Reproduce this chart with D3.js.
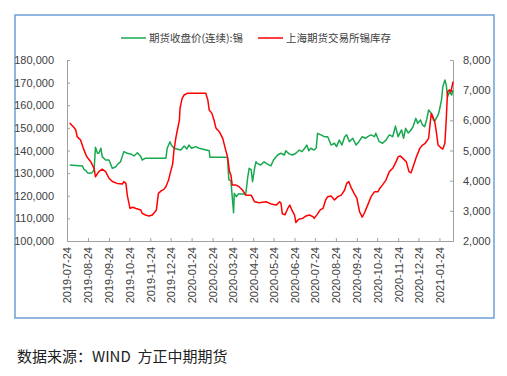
<!DOCTYPE html>
<html>
<head>
<meta charset="utf-8">
<script src="https://cdn.jsdelivr.net/npm/d3@7"></script>
<style>
  body { margin: 0; background: #fff; }
  svg { display: block; font-family: "Microsoft YaHei", "Noto Sans CJK SC", sans-serif; }
</style>
</head>
<body>
<svg id="chart"></svg>
<script>
const width = 507;
const height = 376;

// dates are stored as day offsets from the first tick (2019-07-24)
const startDate = new Date(2019, 6, 24);
const lastDay = 570;

const priceName = "期货收盘价(连续):锡";
const stockName = "上海期货交易所锡库存";
const sourceText = "数据来源：WIND  方正中期期货";

const priceDays = [4, 23, 25, 28, 30, 33, 37, 40, 42, 45, 47, 50, 52, 57, 62, 67, 72, 76, 79, 84, 89, 94, 99, 104, 109, 111, 116, 146, 148, 152, 154, 158, 168, 173, 177, 180, 184, 190, 195, 210, 211, 237, 239, 242, 244, 246, 247, 250, 253, 264, 267, 269, 272, 274, 277, 279, 281, 286, 291, 296, 301, 305, 311, 316, 321, 323, 328, 333, 338, 343, 347, 351, 354, 357, 360, 365, 368, 370, 375, 380, 385, 390, 395, 398, 402, 406, 410, 413, 417, 422, 427, 431, 436, 441, 444, 449, 454, 456, 461, 466, 471, 476, 481, 485, 489, 494, 497, 500, 504, 508, 511, 515, 518, 522, 525, 528, 531, 534, 538, 541, 543, 548, 550, 553, 555, 558, 560, 562, 565, 568, 570];
const priceValues = [133600, 133150, 131700, 131100, 130200, 129900, 130200, 131400, 141400, 138800, 138800, 141000, 137300, 135800, 135800, 132100, 132800, 134300, 135000, 139500, 138800, 138500, 137600, 139000, 137300, 135800, 136600, 136600, 141000, 143900, 142400, 141000, 140200, 142000, 140700, 142400, 141000, 141700, 141000, 139900, 137000, 137000, 127000, 126700, 119600, 112500, 121100, 119600, 120800, 120800, 128400, 132100, 131400, 126200, 132100, 135000, 134300, 133600, 135000, 134000, 133200, 135800, 138000, 138800, 138000, 139900, 138500, 138000, 138800, 140200, 139500, 141000, 142400, 139900, 141000, 140200, 141100, 147600, 146900, 146100, 146100, 142400, 143200, 141700, 144600, 142400, 146100, 146900, 143900, 145400, 142400, 143900, 146100, 145400, 146100, 146900, 146100, 147600, 143900, 143200, 144600, 146900, 146100, 150800, 146100, 149100, 145400, 149800, 147700, 149100, 150500, 154200, 152000, 153500, 151300, 150500, 153500, 157900, 156400, 153500, 153000, 155700, 157900, 162300, 168200, 171200, 169000, 163800, 166000, 164500, 166700];

const stockDays = [4, 10, 13, 15, 20, 25, 29, 35, 40, 42, 47, 52, 57, 62, 67, 74, 82, 84, 87, 89, 93, 97, 102, 109, 111, 116, 121, 126, 130, 132, 135, 139, 143, 146, 150, 153, 156, 158, 161, 163, 166, 167, 170, 173, 178, 205, 208, 210, 214, 217, 220, 225, 230, 233, 237, 240, 242, 244, 249, 254, 259, 264, 272, 274, 277, 284, 294, 301, 309, 314, 316, 318, 322, 326, 329, 332, 336, 338, 342, 348, 353, 358, 363, 365, 370, 374, 378, 382, 385, 390, 395, 400, 405, 410, 413, 416, 420, 424, 428, 432, 436, 439, 444, 449, 454, 459, 462, 466, 471, 476, 481, 486, 489, 492, 496, 501, 505, 508, 512, 516, 521, 525, 529, 534, 536, 538, 541, 543, 545, 548, 553, 555, 558, 560, 561, 562, 565, 567, 570];
const stockValues = [5910, 5770, 5680, 5460, 5350, 5020, 4800, 4630, 4410, 4130, 4300, 4380, 4300, 4080, 3970, 3910, 3890, 3970, 3910, 3520, 3080, 3120, 3080, 3030, 2920, 2860, 2830, 2860, 2970, 3030, 3580, 3660, 3710, 3800, 4020, 4300, 4550, 5020, 5450, 5680, 6010, 6410, 6730, 6840, 6900, 6900, 6670, 6340, 6230, 6010, 5740, 5620, 5400, 5130, 4790, 4300, 4190, 3860, 3860, 3800, 3690, 3520, 3520, 3430, 3300, 3270, 3300, 3230, 3190, 3300, 3250, 2900, 2870, 3080, 3190, 3030, 2860, 2610, 2720, 2750, 2830, 2860, 2810, 2750, 2900, 3030, 3080, 3360, 3470, 3490, 3360, 3470, 3520, 3690, 3910, 3970, 3750, 3580, 3420, 2970, 2790, 2920, 3190, 3470, 3630, 3630, 3750, 3860, 4020, 4300, 4410, 4630, 4790, 4820, 4740, 4630, 4300, 4260, 4520, 4790, 5070, 5180, 5240, 5400, 5850, 6230, 6080, 5950, 5680, 5180, 5070, 5050, 5240, 6010, 6510, 6950, 7010, 6940, 7280];

const priceTicks = [100000, 110000, 120000, 130000, 140000, 150000, 160000, 170000, 180000];
const stockTicks = [2000, 3000, 4000, 5000, 6000, 7000, 8000];
const monthTicks = d3.range(0, 19).map(i => d3.timeMonth.offset(startDate, i));

const margin = {left: 67, right: 453, top: 60, bottom: 241};
const green = "#18a84f";
const red = "#ff0000";
const axisColor = "#a0a0a0";
const textColor = "#404040";

const svg = d3.select('#chart')
    .attr('width', width).attr('height', height);

// outer frame
svg.append('rect')
    .attr('x', 15).attr('y', 15)
    .attr('width', 479).attr('height', 303)
    .attr('fill', 'none')
    .attr('stroke', '#6e9fd6')
    .attr('stroke-width', 1.5);

const x = d3.scaleTime()
    .domain([startDate, d3.timeDay.offset(startDate, lastDay)])
    .range([margin.left, margin.right]);
const yLeft = d3.scaleLinear().domain([100000, 180000]).range([margin.bottom, margin.top]);
const yRight = d3.scaleLinear().domain([2000, 8000]).range([margin.bottom, margin.top]);

const fmt = d3.format(',');

function styleAxis(g) {
    g.select('.domain').attr('stroke', axisColor);
    g.selectAll('.tick line').attr('stroke', axisColor);
    g.selectAll('.tick text').attr('fill', textColor).style('font-size', '11px');
}

svg.append('g')
    .attr('transform', `translate(${margin.left},0)`)
    .call(d3.axisLeft(yLeft).tickValues(priceTicks).tickFormat(fmt)
        .tickSizeInner(-3).tickSizeOuter(0).tickPadding(13))
    .call(styleAxis);

svg.append('g')
    .attr('transform', `translate(${margin.right},0)`)
    .call(d3.axisRight(yRight).tickValues(stockTicks).tickFormat(fmt)
        .tickSizeInner(-3).tickSizeOuter(0).tickPadding(10))
    .call(styleAxis);

const xAxis = svg.append('g')
    .attr('transform', `translate(0,${margin.bottom})`)
    .call(d3.axisBottom(x).tickValues(monthTicks).tickFormat(d3.timeFormat('%Y-%m-%d'))
        .tickSizeInner(-3).tickSizeOuter(0))
    .call(styleAxis);

xAxis.selectAll('.tick text')
    .attr('transform', 'rotate(-90)')
    .attr('text-anchor', 'end')
    .attr('x', -6)
    .attr('y', 0)
    .attr('dy', '0.35em');

const priceLine = d3.line()
    .x((d, i) => x(d3.timeDay.offset(startDate, priceDays[i])))
    .y(d => yLeft(d));
const stockLine = d3.line()
    .x((d, i) => x(d3.timeDay.offset(startDate, stockDays[i])))
    .y(d => yRight(d));

svg.append('path')
    .datum(priceValues)
    .attr('d', priceLine)
    .attr('fill', 'none')
    .attr('stroke', green)
    .attr('stroke-width', 1.5)
    .attr('stroke-linejoin', 'round');

svg.append('path')
    .datum(stockValues)
    .attr('d', stockLine)
    .attr('fill', 'none')
    .attr('stroke', red)
    .attr('stroke-width', 1.5)
    .attr('stroke-linejoin', 'round');

// legend
const legendItems = [
    {name: priceName, color: green, x: 121},
    {name: stockName, color: red, x: 258}
];
const legend = svg.append('g');
legendItems.forEach(item => {
    legend.append('line')
        .attr('x1', item.x).attr('x2', item.x + 25)
        .attr('y1', 38).attr('y2', 38)
        .attr('stroke', item.color).attr('stroke-width', 1.5);
    legend.append('text')
        .attr('x', item.x + 28).attr('y', 38)
        .attr('dy', '0.35em')
        .attr('fill', textColor)
        .style('font-size', '10.5px')
        .text(item.name);
});

svg.append('text')
    .attr('x', 17).attr('y', 362)
    .attr('fill', '#222')
    .style('font-size', '15px')
    .style('white-space', 'pre')
    .text(sourceText);
</script>
</body>
</html>
